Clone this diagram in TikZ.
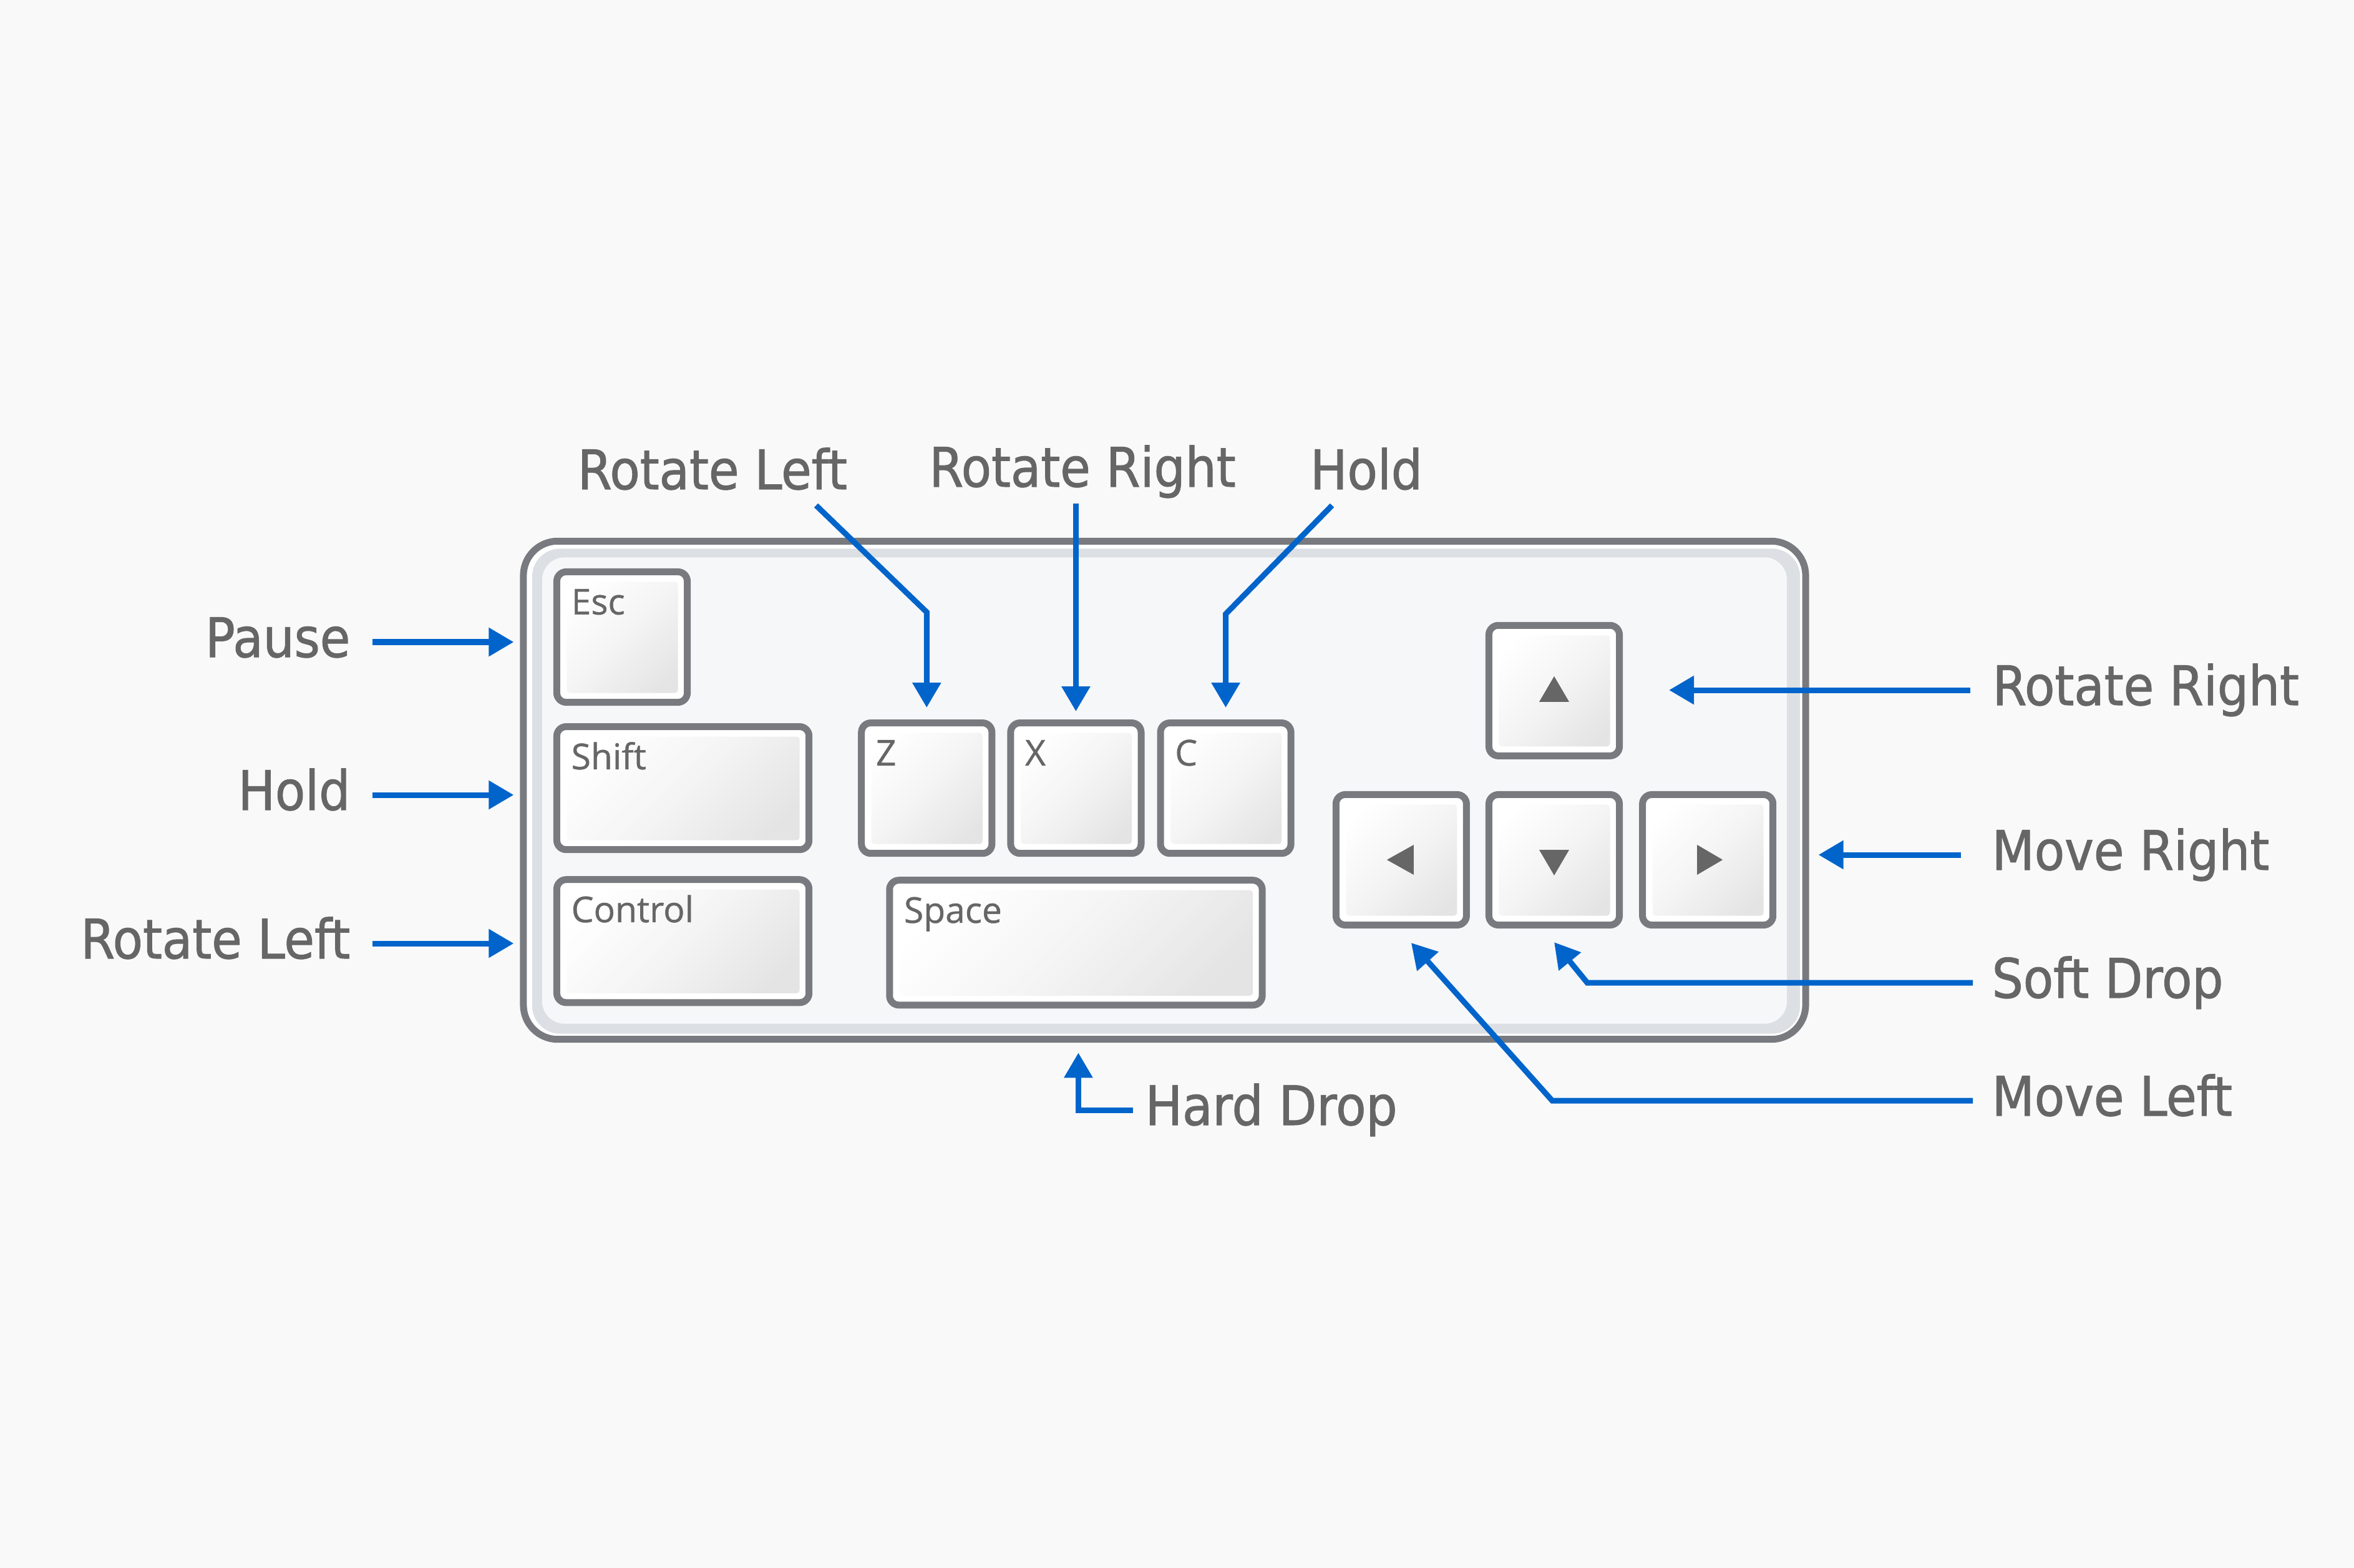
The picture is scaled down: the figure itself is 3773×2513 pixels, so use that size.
\documentclass[tikz,border=0pt]{standalone}
\usepackage{fontspec}
\usepackage{xcolor}
\usepackage{tikz}
\usetikzlibrary{arrows.meta,positioning,calc}
\newfontfamily\labelfont{DejaVu Sans}[FakeStretch=0.905, FakeBold=1.2]
\newfontfamily\capfont{Open Sans}[FakeBold=0.8]
\definecolor{PageGray}{HTML}{F9F9F9}
\definecolor{FrameGray}{HTML}{787A7F}
\definecolor{BandGray}{HTML}{DCDFE3}
\definecolor{FaceGray}{HTML}{F6F7F9}
\definecolor{KeyDark}{HTML}{E4E4E4}
\definecolor{TextGray}{HTML}{666666}
\definecolor{ArrowBlue}{HTML}{0064CB}

\begin{document}
\begin{tikzpicture}[
  x=0.01cm, y=-0.01cm,
  board/.style={draw=FrameGray, line width=0.11cm, fill=white, rounded corners=0.55cm,
    minimum width=20.54cm, minimum height=7.98cm, inner sep=0,
    path picture={
      \fill[BandGray, rounded corners=0.45cm] ($(path picture bounding box.north west)+(14,12)$) rectangle ($(path picture bounding box.south east)+(-9,-9)$);
      \fill[FaceGray, rounded corners=0.36cm] ($(path picture bounding box.north west)+(30,26)$) rectangle ($(path picture bounding box.south east)+(-30,-25)$);
    }},
  keycap/.style={draw=FrameGray, line width=0.11cm, fill=white, rounded corners=0.15cm, inner sep=0,
    minimum width=2.09cm, minimum height=2.09cm,
    path picture={
      \shade[rounded corners=0.05cm, top color=white, bottom color=KeyDark, middle color=white!60!KeyDark, shading angle=45]
        ($(path picture bounding box.north west)+(16,16)$) rectangle ($(path picture bounding box.south east)+(-15,-15)$);
    }},
  longkey/.style={keycap, minimum width=4.04cm, minimum height=1.97cm},
  barkey/.style={keycap, minimum width=5.97cm, minimum height=2.0cm},
  keytext/.style={font=\capfont\fontsize{16.2pt}{19pt}\selectfont, text=TextGray, inner sep=0,
    text height=0.41cm, text depth=0.1cm, anchor=north west, xshift=0.28cm, yshift=-0.32cm},
  callout/.style={font=\labelfont\fontsize{24.8pt}{30pt}\selectfont, text=TextGray, inner sep=0,
    text height=0.65cm, text depth=0.17cm},
  glyph/.style={fill=TextGray},
  arrow/.style={-{Triangle[length=0.4cm, width=0.44cm]}, line width=0.09cm, color=ArrowBlue}
]
  \useasboundingbox (0,0) rectangle (3773,2513);
  \fill[PageGray] (0,0) rectangle (3773,2513);

  \node[board] (board) at (1866.5,1266.5) {};

  \node[keycap, label={[keytext]north west:Esc}] (esc) at (997,1021) {};
  \node[longkey, below=0.28cm of esc.south west, anchor=north west, label={[keytext]north west:Shift}] (shiftkey) {};
  \node[longkey, below=0.37cm of shiftkey, label={[keytext]north west:Control}] (ctrlkey) {};
  \node[keycap, right=0.73cm of shiftkey, label={[keytext]north west:Z}] (zkey) {};
  \node[keycap, right=0.19cm of zkey, label={[keytext]north west:X}] (xkey) {};
  \node[keycap, right=0.20cm of xkey, label={[keytext]north west:C}] (ckey) {};
  \node[barkey, below=0.32cm of xkey, label={[keytext]north west:Space}] (spc) {};

  \node[keycap] (arrdown) at (2491,1378) {};
  \node[keycap, left=0.25cm of arrdown] (arrleft) {};
  \node[keycap, right=0.26cm of arrdown] (arrright) {};
  \node[keycap, above=0.51cm of arrdown] (arrup) {};

  \fill[glyph] ($(arrup)+(-24,18)$) -- ($(arrup)+(24,18)$) -- ($(arrup)+(0,-23)$) -- cycle;
  \fill[glyph] ($(arrdown)+(-24,-16)$) -- ($(arrdown)+(24,-16)$) -- ($(arrdown)+(0,25)$) -- cycle;
  \fill[glyph] ($(arrleft)+(20,-24)$) -- ($(arrleft)+(20,24)$) -- ($(arrleft)+(-23,0)$) -- cycle;
  \fill[glyph] ($(arrright)+(-17,-24)$) -- ($(arrright)+(-17,24)$) -- ($(arrright)+(24,0)$) -- cycle;

  \node[callout, anchor=east] (pause) at (562,1029) {Pause};
  \node[callout, anchor=east] (holdl) at (562,1274) {Hold};
  \node[callout, anchor=east] (rotl) at (562,1512) {Rotate Left};

  \node[callout, anchor=base] (toprl) at (1142,784) {Rotate Left};
  \node[callout, anchor=base] (toprr) at (1735,780) {Rotate Right};
  \node[callout, anchor=base] (tophold) at (2190,784) {Hold};

  \node[callout, anchor=west] (rotr) at (3193,1106) {Rotate Right};
  \node[callout, anchor=west] (mover) at (3192,1370) {Move Right};
  \node[callout, anchor=west] (soft) at (3192,1575) {Soft Drop};
  \node[callout, anchor=west] (movel) at (3192,1764) {Move Left};
  \node[callout, anchor=west] (hard) at (1835,1779) {Hard Drop};

  \draw[arrow] ($(pause.east)+(35,0)$) -- ($(pause.east -| board.west)+(-10,0)$);
  \draw[arrow] ($(holdl.east)+(35,0)$) -- ($(holdl.east -| board.west)+(-10,0)$);
  \draw[arrow] ($(rotl.east)+(35,0)$) -- ($(rotl.east -| board.west)+(-10,0)$);

  \draw[arrow] ($(toprl.base)+(166,26)$) -- ($(zkey.north)+(0,-172)$) -- ($(zkey.north)+(0,-19)$);
  \draw[arrow] ($(xkey.north |- toprr.base)+(0,27)$) -- ($(xkey.north)+(0,-13)$);
  \draw[arrow] ($(tophold.base)+(-55,26)$) -- ($(ckey.north)+(0,-169)$) -- ($(ckey.north)+(0,-19)$);

  \draw[arrow] ($(rotr.west)+(-35,0)$) -- ($(arrup.east |- rotr.west)+(74,0)$);
  \draw[arrow] ($(mover.west)+(-49,0)$) -- ($(board.east |- mover.west)+(15,0)$);
  \draw[arrow] ($(soft.west)+(-30,0)$) -- ($(arrdown.south |- soft.west)+(53,0)$) -- ($(arrdown.south)+(0,22)$);
  \draw[arrow] ($(movel.west)+(-30,0)$) -- ($(arrleft.south |- movel.west)+(242,0)$) -- ($(arrleft.south)+(16,23)$);
  \draw[arrow] ($(hard.west)+(-19,0)$) -- ($(spc.south |- hard.west)+(4,0)$) -- ($(spc.south |- board.south)+(4,16)$);
\end{tikzpicture}
\end{document}
